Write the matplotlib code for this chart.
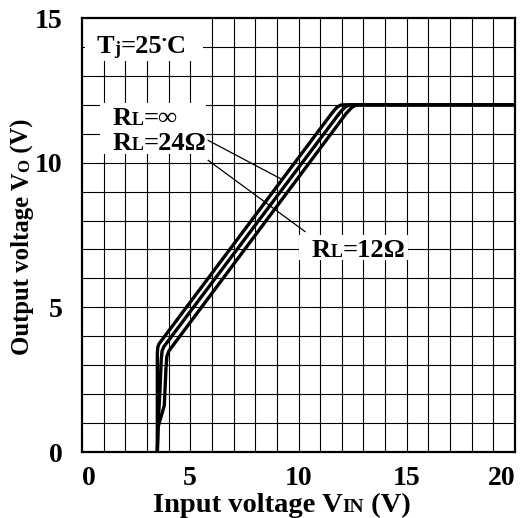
import matplotlib
matplotlib.use("Agg")
import matplotlib.pyplot as plt
from matplotlib.transforms import offset_copy

plt.rcParams['font.family'] = ['Liberation Serif', 'DejaVu Serif']
plt.rcParams['font.weight'] = 'bold'

# curves (input V, output V)
vin_inf = [3.48, 3.48, 3.50, 3.56, 11.55, 11.78, 11.95, 12.05, 20.0]
vo_inf = [0.0, 3.40, 3.62, 3.74, 11.72, 11.92, 11.99, 12.0, 12.0]

vin_24 = [3.48, 3.50, 3.60, 3.66, 3.70, 3.78, 11.90, 12.15, 12.32, 12.45, 20.0]
vo_24 = [0.0, 0.75, 2.10, 3.20, 3.50, 3.64, 11.72, 11.92, 11.99, 12.0, 12.0]

vin_12 = [3.48, 3.52, 3.80, 3.88, 3.92, 4.02, 12.20, 12.45, 12.62, 12.75, 20.0]
vo_12 = [0.0, 0.88, 1.60, 2.90, 3.30, 3.50, 11.70, 11.90, 11.98, 12.0, 12.0]

# leader lines (start, end) in data units
lead1_x = [5.83, 9.19]
lead1_y = [10.77, 9.44]
lead2_x = [5.83, 10.30]
lead2_y = [10.08, 7.62]

x_ticks = [0, 5, 10, 15, 20]
y_ticks = [0, 5, 10, 15]

fig = plt.figure(figsize=(5.32, 5.18), dpi=100)
ax = fig.add_axes([0.1541, 0.1274, 0.814, 0.8378])
renderer = fig.canvas.get_renderer()

ax.set_xlim(0, 20)
ax.set_ylim(0, 15)

# 1 V grid
for v in range(1, 20):
    ax.axvline(v, color='black', lw=0.8, zorder=1)
for v in range(1, 15):
    ax.axhline(v, color='black', lw=0.8, zorder=1)

for xs, ys in [(vin_inf, vo_inf), (vin_24, vo_24), (vin_12, vo_12)]:
    ax.plot(xs, ys, color='black', lw=2.4, solid_joinstyle='round',
            solid_capstyle='butt', zorder=4)

ax.plot(lead1_x, lead1_y, color='black', lw=0.9, zorder=5)
ax.plot(lead2_x, lead2_y, color='black', lw=0.9, zorder=5)

# white patches that break the grid behind the labels
def blank(x0, x1, y0, y1):
    ax.fill_between([x0, x1], y0, y1, color='white', zorder=2, lw=0)

blank(0.15, 5.6, 13.5, 15.0)
blank(0.85, 5.75, 10.3, 12.05)
blank(10.0, 15.05, 6.65, 7.5)


def rich_text(x, y, parts, base, transform=None, rotation=0):
    # parts: list of (text, size factor, raise in points); laid out one after another
    tr = transform if transform is not None else ax.transData
    shift = 0.0
    for txt, scale, rise in parts:
        if rotation == 0:
            t_tr = offset_copy(tr, fig=fig, x=shift, y=rise, units='points')
        else:
            t_tr = offset_copy(tr, fig=fig, x=-rise, y=shift, units='points')
        t = fig.text(x, y, txt, transform=t_tr, fontsize=base * scale,
                     fontweight='bold', rotation=rotation,
                     ha='left', va='baseline', rotation_mode='anchor', zorder=6)
        bb = t.get_window_extent(renderer)
        size = bb.width if rotation == 0 else bb.height
        shift += size * 72.0 / fig.dpi


fs = 19
rich_text(0.68, 13.8, [('T', 1, 0), ('j', 0.68, -1), ('=25', 1, 0), ('•', 0.5, 6.5), ('C', 1, 0)], fs)
rich_text(1.4, 11.3, [('R', 1, 0), ('L', 0.68, 0), ('=∞', 1, 0)], fs)
rich_text(1.4, 10.45, [('R', 1, 0), ('L', 0.68, 0), ('=24Ω', 1, 0)], fs)
rich_text(10.6, 6.75, [('R', 1, 0), ('L', 0.68, 0), ('=12Ω', 1, 0)], fs)

ax.set_xticks(x_ticks)
ax.set_yticks(y_ticks)
ax.set_xticklabels([str(t) for t in x_ticks])
ax.set_yticklabels([str(t) for t in y_ticks])
ax.tick_params(length=0, labelsize=20, pad=10)
ax.tick_params(axis='y', pad=14)
for lab in ax.get_xticklabels() + ax.get_yticklabels():
    lab.set_fontweight('bold')
xl = ax.get_xticklabels()
xl[0].set_ha('left')
xl[-1].set_ha('right')

for s in ax.spines.values():
    s.set_linewidth(1.6)
    s.set_zorder(7)

# axis titles with small-cap style subscripts
fig_tr = fig.transFigure
rich_text(153 / 532, 1 - 512 / 518,
          [('Input voltage V', 1, 0), ('IN', 0.68, 0), (' (V)', 1, 0)], 20.5,
          transform=fig_tr)
rich_text(29 / 532, 1 - 355 / 518,
          [('Output voltage V', 1, 0), ('O', 0.68, 0), (' (V)', 1, 0)], 17.8,
          transform=fig_tr, rotation=90)

fig.savefig('out.png', dpi=100)
